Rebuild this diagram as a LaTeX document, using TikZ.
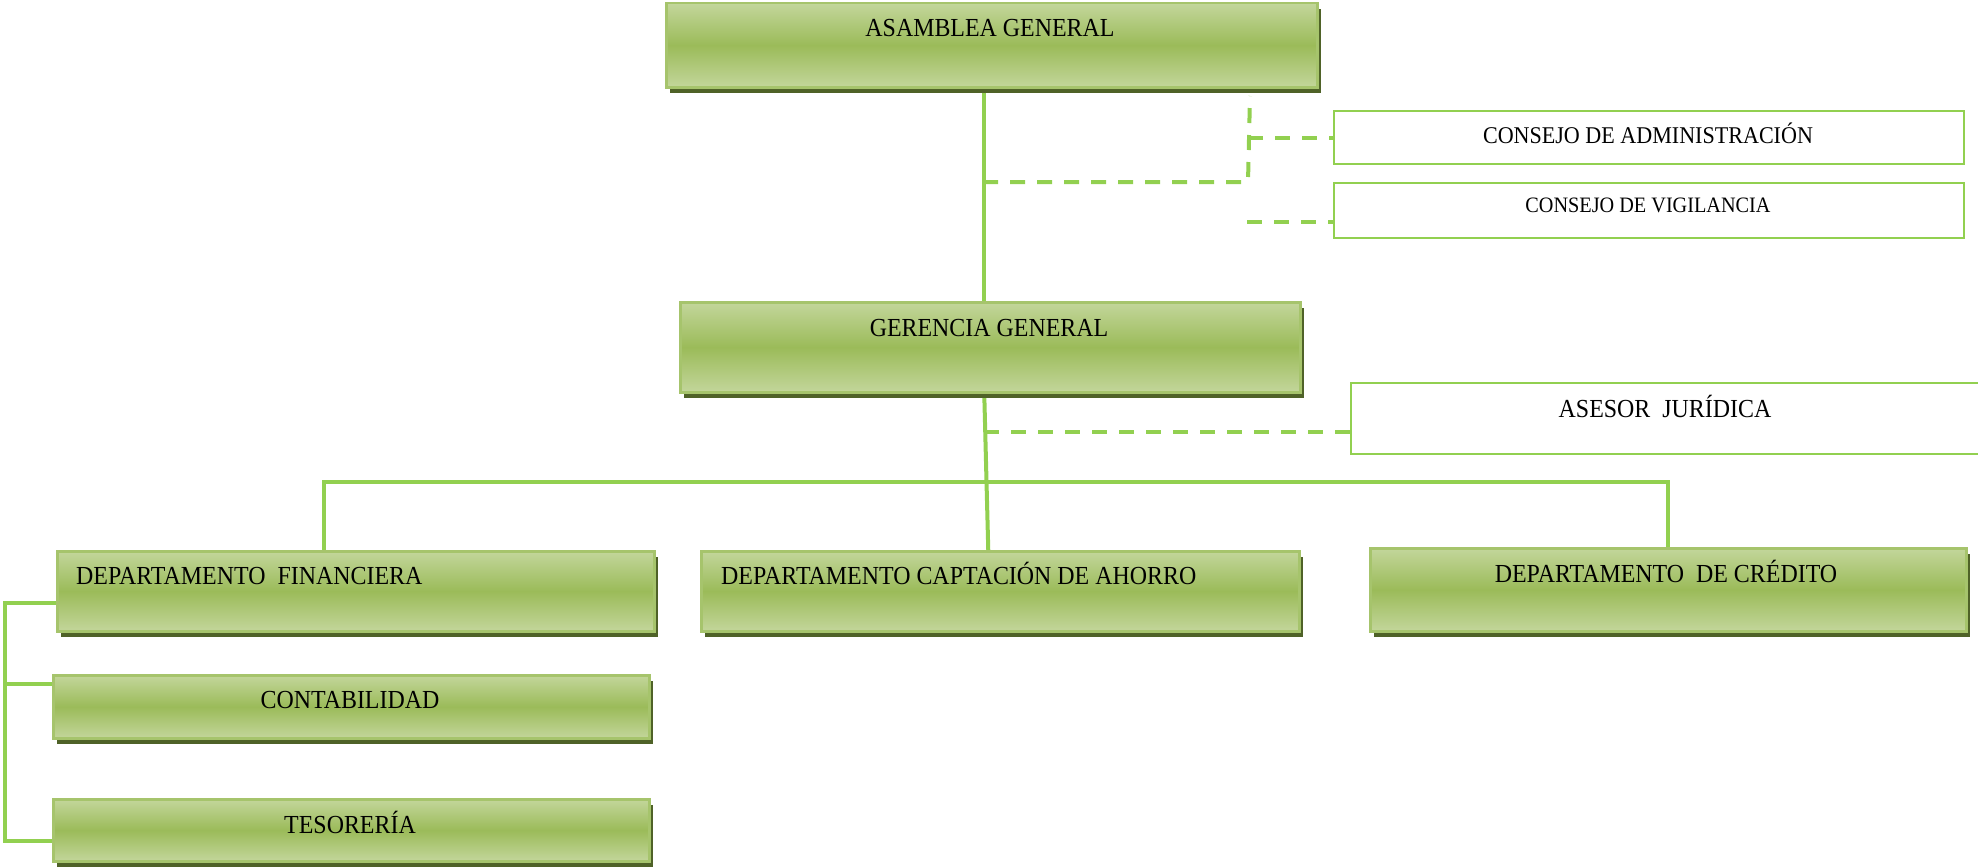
\documentclass[tikz,border=0pt]{standalone}
\usepackage{fontspec}
\setmainfont{Liberation Serif}[FakeStretch=0.92]
\usetikzlibrary{calc,shadows}
\definecolor{gl}{HTML}{C3D69B}
\definecolor{gd}{HTML}{9BBB59}
\definecolor{gsh}{HTML}{4F6228}
\definecolor{gbd}{HTML}{A6C46C}
\definecolor{conn}{HTML}{92D050}
\pgfdeclarelayer{bg}
\pgfsetlayers{bg,main}
\begin{document}
\begin{tikzpicture}[x=1pt,y=-1pt,
  gbox/.style={rectangle, anchor=north west, inner sep=0pt, draw=gbd, line width=2.5pt,
    top color=gl, bottom color=gl, middle color=gd,
    general shadow={fill=gsh, shadow xshift=4pt, shadow yshift=-6pt}},
  wbox/.style={rectangle, anchor=north west, inner sep=0pt, draw=conn, line width=2pt, fill=white},
  lbl/.style={anchor=base, inner sep=0pt, font=\fontsize{26}{30}\selectfont},
  lblw/.style={anchor=base west, inner sep=0pt, font=\fontsize{26}{30}\selectfont},
  solidc/.style={draw=conn, line width=4pt},
  dashc/.style={draw=conn, line width=4pt, dash pattern=on 15pt off 12pt},
]
\useasboundingbox (0,0) rectangle (1978,867);

% boxes
\node[gbox, minimum width=651pt, minimum height=84pt] (asam) at (665,2) {};
\node[wbox, minimum width=630pt, minimum height=53pt] (admin) at (1333,110) {};
\node[wbox, minimum width=630pt, minimum height=55pt] (vig) at (1333,182) {};
\node[gbox, minimum width=620pt, minimum height=90pt] (ger) at (679,301) {};
\node[wbox, minimum width=660pt, minimum height=71pt] (ases) at (1350,382) {};
\node[gbox, minimum width=597pt, minimum height=80pt] (fin) at (56,550) {};
\node[gbox, minimum width=598pt, minimum height=80pt] (capt) at (700,550) {};
\node[gbox, minimum width=596pt, minimum height=83pt] (cred) at (1369,547) {};
\node[gbox, minimum width=596pt, minimum height=63pt] (cont) at (52,674) {};
\node[gbox, minimum width=596pt, minimum height=62pt] (tes) at (52,798) {};

% labels
\node[lbl] (tasam) at (990,37) {ASAMBLEA GENERAL};
\node[lbl, font=\fontsize{24}{28}\selectfont] (tadmin) at (1648,143) {CONSEJO DE ADMINISTRACIÓN};
\node[lbl, font=\fontsize{22}{26}\selectfont] (tvig) at (1648,212) {CONSEJO DE VIGILANCIA};
\node[lbl] (tger) at (989,336) {GERENCIA GENERAL};
\node[lbl] (tases) at (1665,417) {ASESOR~ JURÍDICA};
\node[lblw] (tfin) at (76,584) {DEPARTAMENTO~ FINANCIERA};
\node[lblw] (tcapt) at (721,584) {DEPARTAMENTO CAPTACIÓN DE AHORRO};
\node[lbl] (tcred) at (1666,582) {DEPARTAMENTO~ DE CRÉDITO};
\node[lbl] (tcont) at (350,708) {CONTABILIDAD};
\node[lbl] (ttes) at (350,833) {TESORERÍA};

% connectors
\begin{pgfonlayer}{bg}
\coordinate (a1) at ($(asam.south)+(-7.5,0)$);
\coordinate (g1) at ($(ger.north)+(-6,0)$);
\draw[solidc] (a1) -- (g1);

\coordinate (d1) at (983,182);
\coordinate (d2) at (1248,182);
\coordinate (d3) at (1250,96);
\draw[dashc] (d1) -- (d2) -- (d3);
\coordinate (d4) at (1248,138);
\draw[dashc] (d4) -- (admin.west |- d4);
\coordinate (d5) at (1247,222);
\draw[dashc] (d5) -- (vig.west |- d5);

\coordinate (g2) at ($(ger.south)+(-6,0)$);
\coordinate (c1) at ($(capt.north)+(-12,0)$);
\draw[solidc] (g2) -- (c1);
\coordinate (g3) at (984,432);
\draw[dashc] (g3) -- (ases.west |- g3);

\coordinate (h1) at (324,482);
\coordinate (h2) at (1668,482);
\draw[solidc] (fin.north -| h1) -- (h1) -- (h2) -- (cred.north -| h2);

\coordinate (b1) at (5,603);
\coordinate (b2) at (5,684);
\coordinate (b3) at (5,841);
\draw[solidc, line width=3.5pt] (fin.west |- b1) -- (b1) -- (b3) -- (tes.west |- b3);
\draw[solidc, line width=3.5pt] (b2) -- (cont.west |- b2);
\end{pgfonlayer}
\end{tikzpicture}
\end{document}
